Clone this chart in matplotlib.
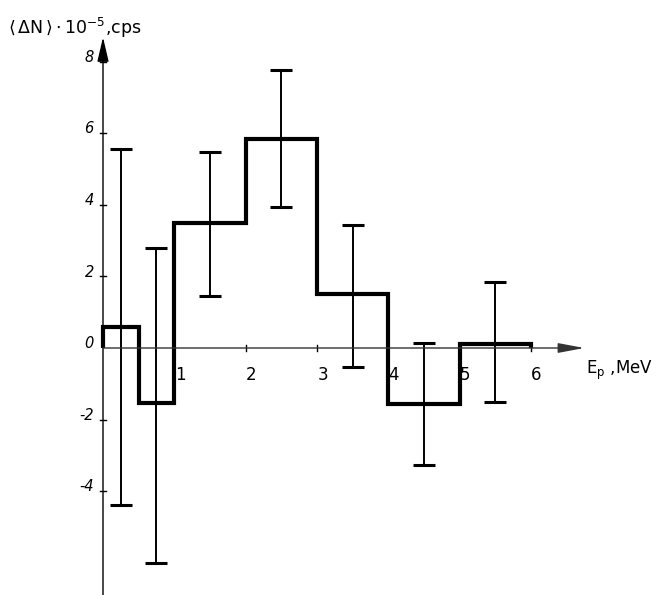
import matplotlib
matplotlib.use("Agg")
import matplotlib.pyplot as plt
from matplotlib import font_manager

# ---- data ----
edges = [0, 0.5, 1, 2, 3, 4, 5, 6]
step_values = [0.6, -1.55, 3.5, 5.85, 1.5, -1.56, 0.11]

err_x = [0.25, 0.75, 1.5, 2.5, 3.5, 4.5, 5.5]
err_hi = [5.56, 2.79, 5.47, 7.77, 3.44, 0.14, 1.84]
err_lo = [-4.38, -6.0, 1.45, 3.94, -0.53, -3.27, -1.51]

xticks = [1, 2, 3, 4, 5, 6]
xtick_labels = ["1", "2", "3", "4", "5", "6"]
yticks = [8, 6, 4, 2, 0, -2, -4]
ytick_labels = ["8", "6", "4", "2", "0", "-2", "-4"]

ylabel_text = r"$\langle\,\Delta\mathrm{N}\,\rangle\cdot10^{-5}$,cps"
xlabel_text = r"E$_\mathrm{p}$ ,MeV"

plt.rcParams["font.family"] = ["DejaVu Sans"]
plt.rcParams["mathtext.fontset"] = "dejavusans"

W, H = 657, 595
fig = plt.figure(figsize=(W / 100, H / 100), dpi=100)
ax = fig.add_axes([0, 0, 1, 1])
x0px, y0px = 103, 348
sx, sy = 71.3, 35.8
ax.set_xlim(-x0px / sx, (W - x0px) / sx)
ax.set_ylim(-(H - y0px) / sy, y0px / sy)
ax.axis("off")

# axes with arrows
ax.annotate("", xy=(0, 8.68), xytext=(0, -6.9),
            arrowprops=dict(arrowstyle="-|>,head_length=1.5,head_width=0.35",
                            color="black", lw=1.0, shrinkA=0, shrinkB=0))
ax.annotate("", xy=(6.75, 0), xytext=(0, 0),
            arrowprops=dict(arrowstyle="-|>,head_length=1.6,head_width=0.3",
                            color="#333333", lw=1.0, shrinkA=0, shrinkB=0))

# ticks
for yv, lab in zip(yticks, ytick_labels):
    if yv != 0:
        ax.plot([-0.04, 0.04], [yv, yv], color="black", lw=1)
    ax.text(-0.13, yv + 0.12, lab, ha="right", va="center", fontsize=10.5,
            style="italic")
for xv, lab in zip(xticks, xtick_labels):
    ax.plot([xv, xv], [-0.08, 0.08], color="black", lw=1)
    ax.text(xv + 0.08, -0.75, lab, ha="center", va="center", fontsize=12)

# step histogram
ax.stairs(step_values, edges, baseline=0, fill=False, color="black", lw=3)

# error bars
centers = [(h + l) / 2 for h, l in zip(err_hi, err_lo)]
half = [(h - l) / 2 for h, l in zip(err_hi, err_lo)]
ax.errorbar(err_x, centers, yerr=half, fmt="none", ecolor="black",
            elinewidth=1.4, capsize=8, capthick=2.2)

# labels
ax.text(-1.33, 8.78, ylabel_text, ha="left", va="baseline", fontsize=12.5)
ax.text(6.78, -0.72, xlabel_text, ha="left", va="baseline", fontsize=12)

fig.savefig("out.png", dpi=100)
